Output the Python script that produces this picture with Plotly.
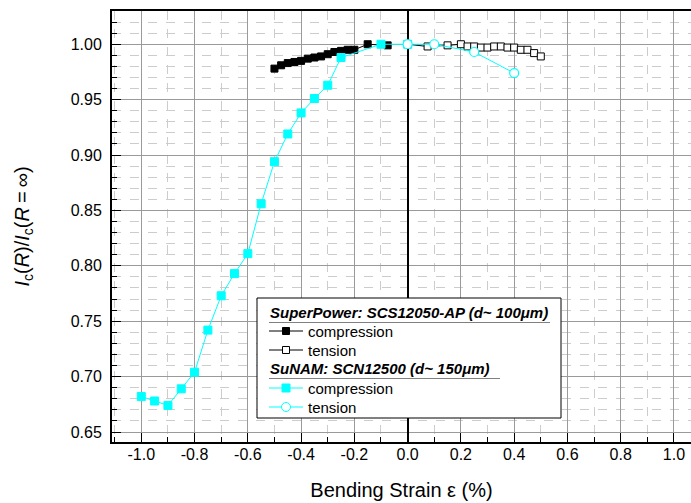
import plotly.graph_objects as go

# ---------------- data ----------------
sp_comp_x = [-0.5, -0.475, -0.45, -0.425, -0.4, -0.375, -0.35, -0.325, -0.3, -0.275,
             -0.25, -0.225, -0.2, -0.15, -0.075]
sp_comp_y = [0.978, 0.981, 0.983, 0.984, 0.985, 0.987, 0.988, 0.989, 0.991, 0.993,
             0.994, 0.995, 0.995, 1.000, 0.999]

sp_tens_x = [0.0, 0.075, 0.15, 0.2, 0.225, 0.25, 0.275, 0.3, 0.325, 0.35, 0.375, 0.4,
             0.425, 0.45, 0.475, 0.5]
sp_tens_y = [1.000, 0.998, 0.999, 1.000, 0.998, 0.998, 0.997, 0.997, 0.998, 0.998,
             0.997, 0.997, 0.995, 0.995, 0.992, 0.989]

sn_comp_x = [-1.0, -0.95, -0.9, -0.85, -0.8, -0.75, -0.7, -0.65, -0.6, -0.55, -0.5,
             -0.45, -0.4, -0.35, -0.3, -0.25, -0.1, 0.0]
sn_comp_y = [0.682, 0.678, 0.674, 0.689, 0.704, 0.742, 0.773, 0.793, 0.811, 0.856,
             0.894, 0.919, 0.938, 0.951, 0.963, 0.988, 1.000, 1.000]

sn_tens_x = [0.0, 0.1, 0.25, 0.4]
sn_tens_y = [1.000, 1.000, 0.993, 0.974]

x_tick_vals = [-1.0, -0.8, -0.6, -0.4, -0.2, 0.0, 0.2, 0.4, 0.6, 0.8, 1.0]
x_tick_text = ["-1.0", "-0.8", "-0.6", "-0.4", "-0.2", "0.0", "0.2", "0.4", "0.6", "0.8", "1.0"]
y_tick_vals = [0.65, 0.70, 0.75, 0.80, 0.85, 0.90, 0.95, 1.00]
y_tick_text = ["0.65", "0.70", "0.75", "0.80", "0.85", "0.90", "0.95", "1.00"]

group_sp = "SuperPower: SCS12050-AP (d~ 100μm)"
group_sn = "SuNAM: SCN12500 (d~ 150μm)"
series_labels = ["compression", "tension", "compression", "tension"]

CYAN = "#00ffff"
FONT = "Liberation Sans, Arial, sans-serif"

# plot-area geometry (pixels) used for the hand-made legend box
L, R, T, B = 112, 691, 11, 442
def px(x):
    return (x - L) / (R - L)
def py(y):
    return (B - y) / (B - T)

fig = go.Figure()
fig.add_trace(go.Scatter(
    x=sp_comp_x, y=sp_comp_y, mode="lines+markers", name=series_labels[0],
    line=dict(color="black", width=1),
    marker=dict(symbol="square", size=7, color="black", line=dict(color="black", width=1))))
fig.add_trace(go.Scatter(
    x=sp_tens_x, y=sp_tens_y, mode="lines+markers", name=series_labels[1],
    line=dict(color="black", width=1),
    marker=dict(symbol="square", size=7, color="white", line=dict(color="black", width=1))))
fig.add_trace(go.Scatter(
    x=sn_comp_x, y=sn_comp_y, mode="lines+markers", name=series_labels[2],
    line=dict(color=CYAN, width=1),
    marker=dict(symbol="square", size=8, color=CYAN, line=dict(color=CYAN, width=1))))
fig.add_trace(go.Scatter(
    x=sn_tens_x, y=sn_tens_y, mode="lines+markers", name=series_labels[3],
    line=dict(color=CYAN, width=1),
    marker=dict(symbol="circle", size=9, color="white", line=dict(color=CYAN, width=1.2))))

# ---------------- legend (drawn by hand) ----------------
shapes = []
annotations = []
shapes.append(dict(type="rect", xref="paper", yref="paper",
                   x0=px(257), x1=px(561), y0=py(418), y1=py(298),
                   line=dict(color="black", width=1), fillcolor="white", layer="above"))

rows = [
    ("title", group_sp, 312.5, None),
    ("item", series_labels[0], 331, ("square", "black", "black", 3.5)),
    ("item", series_labels[1], 350, ("square", "white", "black", 3.5)),
    ("title", group_sn, 368.5, None),
    ("item", series_labels[2], 388, ("square", CYAN, CYAN, 4)),
    ("item", series_labels[3], 407, ("circle", "white", CYAN, 4.5)),
]
underline_ends = {group_sp: 550, group_sn: 500}
for kind, text, yc, mk in rows:
    if kind == "title":
        annotations.append(dict(text=f"<b><i>{text}</i></b>", xref="paper", yref="paper",
                                x=px(268), y=py(yc), xanchor="left", yanchor="middle",
                                showarrow=False, font=dict(family=FONT, size=15, color="black")))
        shapes.append(dict(type="line", xref="paper", yref="paper",
                           x0=px(269), x1=px(underline_ends[text]), y0=py(yc + 10), y1=py(yc + 10),
                           line=dict(color="#808080", width=1), layer="above"))
    else:
        sym, fill, edge, h = mk
        shapes.append(dict(type="line", xref="paper", yref="paper",
                           x0=px(269), x1=px(303), y0=py(yc), y1=py(yc),
                           line=dict(color=edge, width=1), layer="above"))
        shapes.append(dict(type="rect" if sym == "square" else "circle",
                           xref="paper", yref="paper",
                           x0=px(286 - h), x1=px(286 + h), y0=py(yc + h), y1=py(yc - h),
                           line=dict(color=edge, width=1), fillcolor=fill, layer="above"))
        annotations.append(dict(text=text, xref="paper", yref="paper",
                                x=px(306), y=py(yc), xanchor="left", yanchor="middle",
                                showarrow=False, font=dict(family=FONT, size=15, color="black")))

fig.update_layout(
    width=691, height=503,
    margin=dict(l=L, r=691 - R, t=T, b=503 - B),
    paper_bgcolor="white", plot_bgcolor="white",
    font=dict(family=FONT, size=16, color="black"),
    showlegend=False,
    shapes=shapes,
    annotations=annotations,
)

fig.update_xaxes(
    range=[-1.11, 1.064],
    tickvals=x_tick_vals, ticktext=x_tick_text,
    ticks="inside", ticklen=9, tickwidth=1, tickcolor="black",
    ticklabelstandoff=-3,
    showline=True, linecolor="black", linewidth=2, mirror=True,
    showgrid=True, gridcolor="#9a9a9a", gridwidth=1,
    zeroline=True, zerolinecolor="black", zerolinewidth=2,
    minor=dict(dtick=0.1, tick0=0, ticks="inside", ticklen=5, tickcolor="black",
               showgrid=True, gridcolor="#cccccc", griddash="dash", gridwidth=1),
    title=dict(text="Bending Strain ε (%)", font=dict(family=FONT, size=20), standoff=21),
    tickfont=dict(family=FONT, size=16),
)
fig.update_yaxes(
    range=[0.641, 1.03],
    tickvals=y_tick_vals, ticktext=y_tick_text,
    ticks="inside", ticklen=9, tickwidth=1, tickcolor="black",
    ticklabelstandoff=5,
    showline=True, linecolor="black", linewidth=2, mirror=False,
    showgrid=True, gridcolor="#9a9a9a", gridwidth=1,
    zeroline=False,
    minor=dict(dtick=0.01, tick0=0, ticks="inside", ticklen=5, tickcolor="black",
               showgrid=True, gridcolor="#cccccc", griddash="dash", gridwidth=1),
    title=dict(text="<i>I</i><sub>c</sub>(<i>R</i>)/<i>I</i><sub>c</sub>(<i>R</i>\u2009=\u2009∞)",
               font=dict(family=FONT, size=20), standoff=36),
    tickfont=dict(family=FONT, size=16),
)

fig.write_html("out.html")
